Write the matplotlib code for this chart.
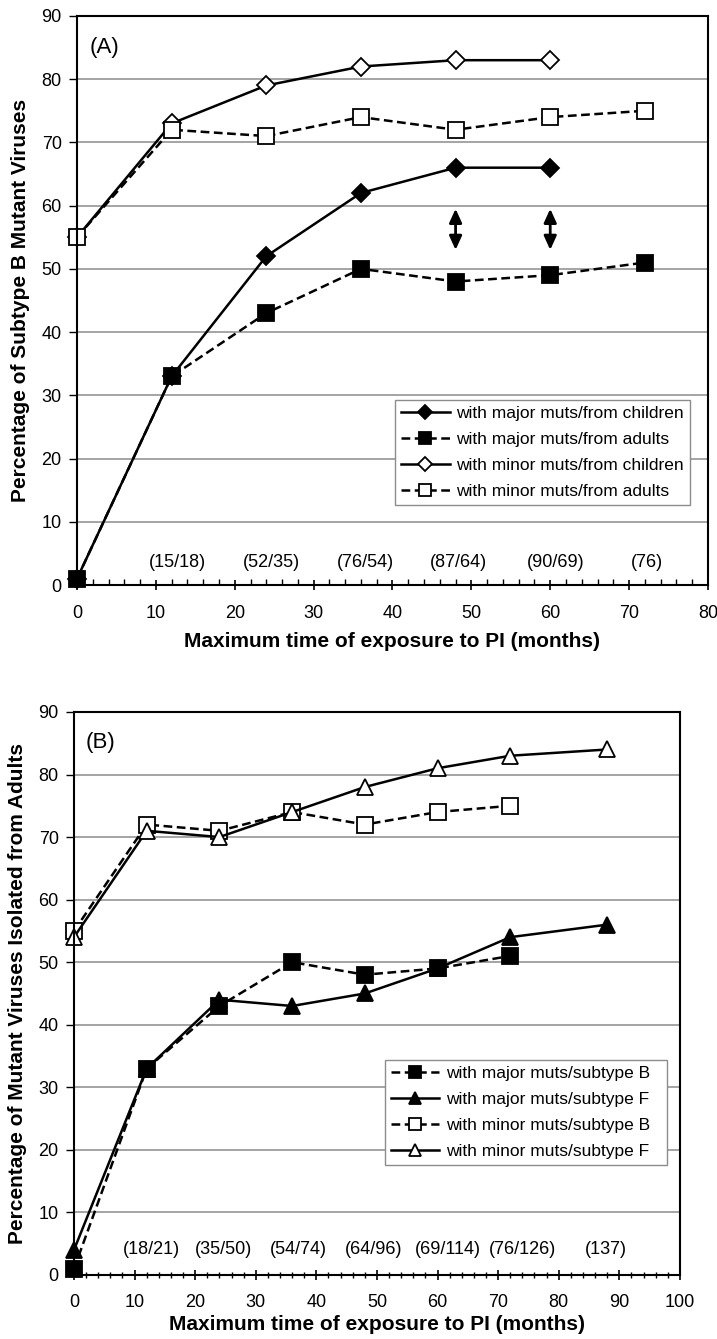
import numpy as np
import matplotlib
matplotlib.use("Agg")
import matplotlib.pyplot as plt
from matplotlib.ticker import MultipleLocator

plt.rcParams['font.family'] = ['Liberation Sans', 'DejaVu Sans']

# DATOS PANEL A
meses_a = [0, 12, 24, 36, 48, 60, 72]
mayor_ninos = [1, 33, 52, 62, 66, 66]
mayor_adultos = [1, 33, 43, 50, 48, 49, 51]
menor_ninos = [55, 73, 79, 82, 83, 83]
menor_adultos = [55, 72, 71, 74, 72, 74, 75]
etiquetas_a = ["(15/18)", "(52/35)", "(76/54)", "(87/64)", "(90/69)", "(76)"]
etiquetas_a_x = [12.7, 24.6, 36.6, 48.4, 60.7, 72.2]
flechas_x = [48, 60]
flecha_abajo = 53
flecha_arriba = 59.5

# DATOS PANEL B
meses_b = [0, 12, 24, 36, 48, 60, 72, 88]
mayor_b = [1, 33, 43, 50, 48, 49, 51]
mayor_f = [4, 33, 44, 43, 45, 49, 54, 56]
menor_b = [55, 72, 71, 74, 72, 74, 75]
menor_f = [54, 71, 70, 74, 78, 81, 83, 84]
etiquetas_b = ["(18/21)", "(35/50)", "(54/74)", "(64/96)", "(69/114)", "(76/126)", "(137)"]
etiquetas_b_x = [12.7, 24.6, 37.1, 49.4, 61.7, 74.0, 87.8]

fig = plt.figure(figsize=(7.17, 13.39), dpi=100)
ax_a = fig.add_axes([0.1074, 0.5631, 0.880, 0.425])
ax_b = fig.add_axes([0.1032, 0.0478, 0.845, 0.4205])

lw = 1.8
rayas = (3.5, 1.8)


def serie(ax, x, y, marcador, ms, relleno, punteada, etiqueta):
    linea, = ax.plot(x[:len(y)], y, color="black", lw=lw, marker=marcador, ms=ms,
                     mfc=relleno, mec="black", mew=1.3, label=etiqueta, clip_on=False)
    if punteada:
        linea.set_dashes(rayas)
    return linea


def formato(ax, xmax, ylabel, letra, minor_dir, pad_x, pad_label):
    ax.set_xlim(0, xmax)
    ax.set_ylim(0, 90)
    ax.xaxis.set_major_locator(MultipleLocator(10))
    ax.xaxis.set_minor_locator(MultipleLocator(2))
    ax.yaxis.set_major_locator(MultipleLocator(10))
    ax.grid(True, axis="y", color="#8c8c8c", lw=1.1)
    ax.set_axisbelow(True)
    for s in ax.spines.values():
        s.set_linewidth(1.5)
        s.set_color("black")
    ax.tick_params(axis="x", which="major", direction="inout", length=7, width=1.2,
                   labelsize=13, pad=pad_x)
    ax.tick_params(axis="x", which="minor", direction=minor_dir, length=4, width=1.0)
    ax.tick_params(axis="y", which="major", direction="out", length=6, width=1.0,
                   labelsize=13, pad=5)
    ax.set_xlabel("Maximum time of exposure to PI (months)", fontsize=15,
                  fontweight="bold", labelpad=pad_label)
    ax.set_ylabel(ylabel, fontsize=15, fontweight="bold", labelpad=8)
    ax.text(0.02, 0.945, letra, transform=ax.transAxes, fontsize=16, va="center")


def leyenda(ax, caja):
    leg = ax.legend(loc="lower left", bbox_to_anchor=caja, mode="expand", fontsize=12.5,
                    handlelength=2.8, handletextpad=0.35, labelspacing=0.62,
                    borderpad=0.35, borderaxespad=0, fancybox=False, framealpha=1,
                    markerscale=0.75)
    leg.get_frame().set_edgecolor("#8c8c8c")
    leg.get_frame().set_linewidth(1.0)


# PANEL A
serie(ax_a, meses_a, mayor_ninos, "D", 9, "black", False, "with major muts/from children")
serie(ax_a, meses_a, mayor_adultos, "s", 12, "black", True, "with major muts/from adults")
serie(ax_a, meses_a, menor_ninos, "D", 9, "white", False, "with minor muts/from children")
serie(ax_a, meses_a, menor_adultos, "s", 12, "white", True, "with minor muts/from adults")

for x in flechas_x:
    ax_a.annotate("", xy=(x, flecha_arriba), xytext=(x, flecha_abajo),
                  arrowprops=dict(arrowstyle="<|-|>,head_length=0.55,head_width=0.25",
                                  color="black", lw=2.0, mutation_scale=15,
                                  shrinkA=0, shrinkB=0))

for x, t in zip(etiquetas_a_x, etiquetas_a):
    ax_a.text(x, 3.5, t, ha="center", va="center", fontsize=13)

formato(ax_a, 80, "Percentage of Subtype B Mutant Viruses", "(A)", "in", 11, 7)
leyenda(ax_a, (0.504, 0.141, 0.468, 0.186))

# PANEL B
serie(ax_b, meses_b, mayor_b, "s", 12, "black", True, "with major muts/subtype B")
serie(ax_b, meses_b, mayor_f, "^", 12, "black", False, "with major muts/subtype F")
serie(ax_b, meses_b, menor_b, "s", 12, "white", True, "with minor muts/subtype B")
serie(ax_b, meses_b, menor_f, "^", 12, "white", False, "with minor muts/subtype F")

for x, t in zip(etiquetas_b_x, etiquetas_b):
    ax_b.text(x, 4.0, t, ha="center", va="center", fontsize=13)

formato(ax_b, 100, "Percentage of Mutant Viruses Isolated from Adults", "(B)", "inout", 10, 3)
for tick in ax_b.yaxis.get_major_ticks():
    if abs(tick.get_loc() - 40) < 0.01:
        tick.gridline.set_color("black")
leyenda(ax_b, (0.513, 0.195, 0.466, 0.19))

fig.savefig("out.png", dpi=100)
